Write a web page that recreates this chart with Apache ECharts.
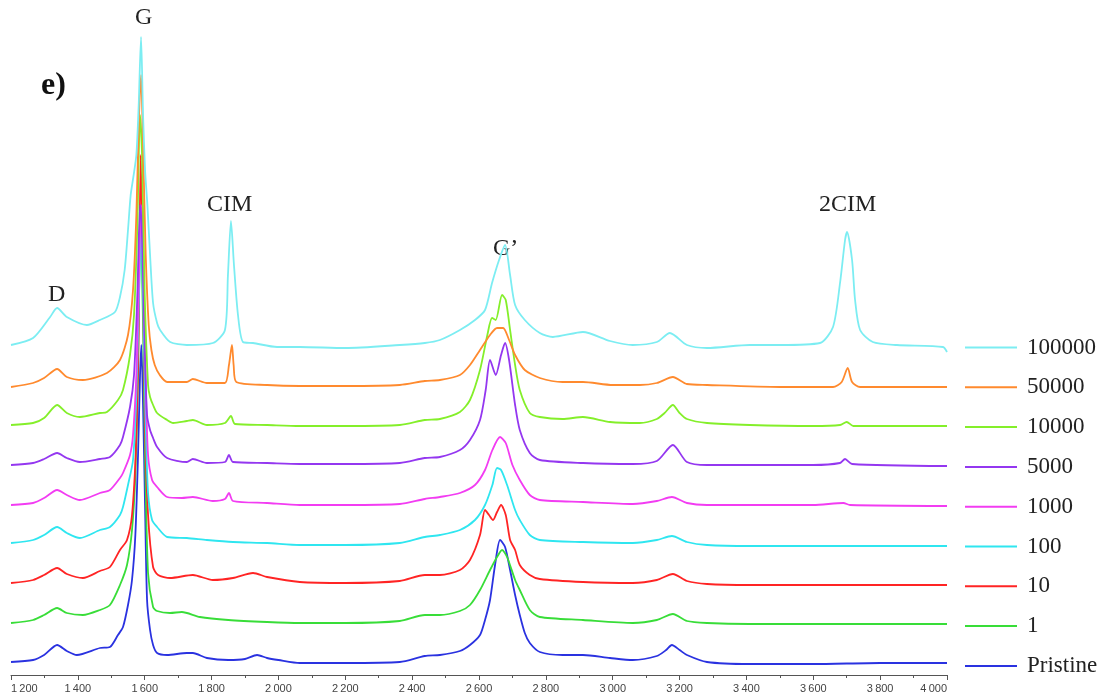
<!DOCTYPE html>
<html>
<head>
<meta charset="utf-8">
<title>Raman spectra e)</title>
<script src="https://cdn.jsdelivr.net/npm/echarts@6/dist/echarts.min.js"></script>
<style>
  html, body { margin: 0; padding: 0; background: #fff; }
  #chart { width: 1111px; height: 695px; }
</style>
</head>
<body>
<div id="chart"></div>
<script>
// legend order, top to bottom
const seriesNames = ['100000', '50000', '10000', '5000', '1000', '100', '10', '1', 'Pristine'];
const seriesColors = ['#7cedf2', '#ff8a2e', '#84ef2a', '#9437f0', '#f23cf2', '#2fe6f0', '#ff2424', '#38dd38', '#2a32e0'];

// x ticks (Raman shift, cm-1)
const xTicks = [1200, 1400, 1600, 1800, 2000, 2200, 2400, 2600, 2800, 3000, 3200, 3400, 3600, 3800, 4000];

// spectra: [shift, stacked intensity]
const s100000 = [[1200,330],[1266,337],[1317,358],[1338,367],[1367,358],[1427,350],[1466,355],[1511,363],[1526,378],[1540,405],[1550,445],[1558,480],[1566,498],[1575,520],[1582,570],[1589,638],[1595,560],[1601,505],[1608,470],[1616,420],[1625,372],[1637,352],[1646,345],[1676,333],[1726,330],[1804,332],[1840,345],[1849,400],[1858,454],[1867,410],[1879,360],[1894,333],[1924,332],[1996,328],[2064,328],[2200,327],[2363,330],[2438,332],[2483,335],[2543,345],[2588,355],[2618,365],[2639,392],[2660,415],[2678,430],[2693,400],[2708,370],[2737,355],[2782,342],[2821,338],[2911,343],[2992,334],[3060,330],[3132,333],[3171,342],[3222,330],[3282,327],[3410,330],[3500,330],[3620,332],[3659,348],[3680,392],[3695,435],[3701,443],[3716,415],[3725,375],[3740,345],[3778,333],[3850,330],[3988,328],[4000,323]];
const s50000 = [[1200,288],[1266,292],[1299,297],[1338,306],[1367,298],[1415,295],[1487,302],[1526,315],[1550,340],[1565,385],[1575,460],[1583,560],[1589,600],[1595,530],[1603,420],[1612,350],[1620,325],[1630,310],[1645,300],[1667,293],[1726,293],[1744,296],[1786,292],[1840,292],[1852,310],[1861,330],[1866,310],[1874,293],[1966,290],[2064,289],[2200,289],[2363,290],[2438,294],[2483,295],[2543,300],[2573,310],[2603,325],[2633,340],[2654,347],[2672,347],[2690,335],[2708,320],[2737,305],[2782,297],[2850,293],[2911,293],[3000,290],[3081,290],[3132,292],[3180,298],[3222,291],[3282,290],[3500,288],[3659,288],[3685,293],[3703,307],[3716,293],[3740,288],[4000,288]];
const s10000 = [[1200,250],[1266,252],[1299,257],[1338,270],[1367,262],[1406,258],[1466,262],[1487,263],[1520,275],[1535,285],[1556,320],[1568,360],[1578,450],[1586,560],[1592,520],[1600,380],[1610,290],[1616,278],[1625,270],[1637,262],[1667,255],[1685,252],[1726,254],[1744,255],[1786,250],[1840,252],[1858,259],[1870,251],[1966,250],[2064,249],[2200,249],[2363,250],[2438,255],[2483,256],[2543,263],[2573,275],[2603,305],[2625,340],[2639,357],[2650,355],[2669,380],[2680,375],[2693,345],[2708,310],[2722,285],[2752,262],[2782,258],[2850,256],[2911,258],[2992,253],[3081,252],[3132,256],[3155,262],[3180,270],[3200,262],[3222,256],[3282,252],[3410,250],[3600,249],[3680,250],[3700,253],[3720,249],[4000,249]];
const s5000 = [[1200,210],[1266,212],[1299,216],[1338,222],[1367,217],[1406,213],[1466,216],[1496,218],[1526,230],[1535,238],[1556,268],[1568,300],[1578,380],[1586,470],[1592,440],[1600,330],[1607,260],[1616,245],[1625,237],[1637,228],[1667,217],[1726,213],[1744,216],[1786,212],[1840,213],[1852,220],[1864,213],[1966,212],[2064,211],[2200,211],[2363,212],[2438,217],[2483,218],[2543,225],[2573,235],[2603,255],[2620,285],[2633,315],[2650,300],[2666,320],[2678,332],[2690,315],[2708,270],[2722,245],[2752,222],[2782,215],[2911,212],[3060,211],[3132,214],[3180,230],[3222,213],[3282,210],[3600,210],[3680,212],[3695,216],[3716,211],[4000,209]];
const s1000 = [[1200,170],[1266,172],[1299,177],[1338,185],[1367,180],[1406,175],[1466,182],[1496,185],[1526,197],[1535,202],[1556,220],[1565,240],[1575,300],[1583,400],[1589,470],[1596,400],[1603,290],[1610,220],[1622,195],[1637,188],[1667,178],[1711,177],[1744,178],[1804,174],[1840,176],[1852,182],[1864,174],[1966,172],[2064,170],[2200,170],[2363,171],[2438,176],[2483,178],[2543,182],[2588,190],[2618,205],[2640,225],[2663,238],[2680,232],[2700,210],[2722,195],[2752,180],[2782,175],[2911,173],[3060,171],[3132,174],[3177,178],[3222,172],[3282,170],[3600,170],[3690,172],[3710,170],[4000,169]];
const s100 = [[1200,132],[1266,135],[1299,140],[1338,148],[1367,142],[1406,137],[1466,145],[1496,148],[1526,160],[1535,168],[1550,190],[1565,215],[1575,280],[1583,380],[1589,445],[1595,380],[1603,250],[1610,182],[1622,155],[1637,148],[1667,138],[1726,137],[1786,135],[1864,133],[1966,132],[2064,130],[2200,130],[2363,132],[2438,138],[2483,140],[2543,145],[2588,155],[2618,170],[2640,190],[2654,207],[2666,205],[2684,190],[2708,165],[2722,155],[2752,140],[2782,135],[2911,133],[3060,132],[3132,135],[3177,139],[3222,133],[3282,130],[3410,129],[4000,129]];
const s10 = [[1200,92],[1266,95],[1299,100],[1338,107],[1367,101],[1415,97],[1466,104],[1496,108],[1526,125],[1547,135],[1562,160],[1574,230],[1582,350],[1588,520],[1594,420],[1601,250],[1610,160],[1625,108],[1640,100],[1676,97],[1744,100],[1804,95],[1864,97],[1924,102],[1966,98],[2064,93],[2200,92],[2363,94],[2438,100],[2483,100],[2543,105],[2573,115],[2603,140],[2618,165],[2630,160],[2642,155],[2654,163],[2666,170],[2680,160],[2693,135],[2708,125],[2722,110],[2752,100],[2782,96],[2911,93],[3060,92],[3132,95],[3180,101],[3222,94],[3282,91],[3410,90],[4000,90]];
const s1 = [[1200,52],[1266,55],[1299,60],[1338,67],[1367,62],[1415,60],[1466,65],[1496,70],[1526,90],[1547,110],[1562,145],[1572,200],[1580,300],[1587,470],[1595,350],[1601,220],[1610,102],[1625,68],[1637,64],[1676,62],[1711,63],[1765,58],[1850,55],[1966,53],[2064,52],[2200,52],[2363,54],[2438,60],[2483,60],[2543,64],[2573,70],[2603,85],[2633,105],[2654,118],[2669,125],[2684,118],[2708,95],[2722,85],[2752,65],[2782,58],[2911,55],[3060,52],[3132,55],[3180,61],[3222,54],[3282,52],[3410,51],[4000,51]];
const sPristine = [[1200,13],[1266,15],[1299,20],[1338,30],[1367,24],[1397,20],[1466,27],[1496,28],[1520,40],[1535,48],[1550,70],[1562,95],[1572,140],[1580,220],[1586,300],[1590,330],[1595,270],[1601,170],[1607,75],[1616,45],[1625,30],[1637,22],[1667,20],[1726,22],[1744,22],[1786,17],[1850,15],[1900,16],[1936,20],[1966,17],[2000,15],[2064,12],[2200,12],[2363,13],[2438,19],[2483,20],[2543,24],[2573,30],[2603,40],[2618,55],[2633,75],[2648,110],[2663,135],[2678,128],[2693,105],[2708,80],[2722,60],[2737,42],[2752,32],[2782,23],[2850,20],[2911,20],[2992,17],[3060,15],[3132,19],[3160,25],[3177,30],[3200,25],[3222,20],[3282,13],[3410,11],[3600,11],[3800,12],[4000,12]];

const spectra = [s100000, s50000, s10000, s5000, s1000, s100, s10, s1, sPristine];

// peak labels
const peakLabels = ['D', 'G', 'CIM', 'G\u2019', '2CIM'];

const chart = echarts.init(document.getElementById('chart'));

const serif = '"Liberation Serif", "DejaVu Serif", serif';

function peakText(text, left, top) {
  return { type: 'text', left: left, top: top, style: { text: text, font: '24px ' + serif, fill: '#222' } };
}

chart.setOption({
  animation: false,
  backgroundColor: '#fff',
  title: {
    text: 'e)',
    left: 36,
    top: 65,
    textStyle: { fontFamily: serif, fontSize: 32, fontWeight: 'bold', color: '#111' }
  },
  grid: { left: 11, right: 164, top: 35, bottom: 20, outerBoundsMode: 'none' },
  legend: {
    orient: 'vertical',
    left: 960,
    top: 331,
    icon: 'rect',
    itemWidth: 52,
    itemHeight: 2,
    itemGap: 16.8,
    textStyle: { fontFamily: serif, fontSize: 23, color: '#222', padding: [0, 0, 0, 5] },
    data: seriesNames
  },
  xAxis: {
    type: 'value',
    min: xTicks[0],
    max: xTicks[xTicks.length - 1],
    interval: 200,
    splitLine: { show: false },
    axisLine: { lineStyle: { color: '#555', width: 1 } },
    axisTick: { length: 5, lineStyle: { color: '#555' } },
    minorTick: { show: true, splitNumber: 2, length: 3, lineStyle: { color: '#555' } },
    axisLabel: {
      fontFamily: '"Liberation Sans", Arial, sans-serif',
      fontSize: 11,
      color: '#444',
      margin: 8,
      alignMinLabel: 'left',
      alignMaxLabel: 'right',
      formatter: (v) => String(v).replace(/\B(?=(\d{3})+(?!\d))/g, '\u2009')
    }
  },
  yAxis: { type: 'value', min: 0, max: 640, show: false },
  graphic: [
    peakText(peakLabels[0], 48, 283),
    peakText(peakLabels[1], 135, 6),
    peakText(peakLabels[2], 207, 193),
    peakText(peakLabels[3], 493, 237),
    peakText(peakLabels[4], 819, 193)
  ],
  series: seriesNames.map((name, i) => ({
    name: name,
    type: 'line',
    data: spectra[i],
    showSymbol: false,
    symbol: 'none',
    smooth: 0.25,
    color: seriesColors[i],
    lineStyle: { width: 1.8, color: seriesColors[i] },
    z: 2 + (seriesNames.length - i)
  }))
});
</script>
</body>
</html>
